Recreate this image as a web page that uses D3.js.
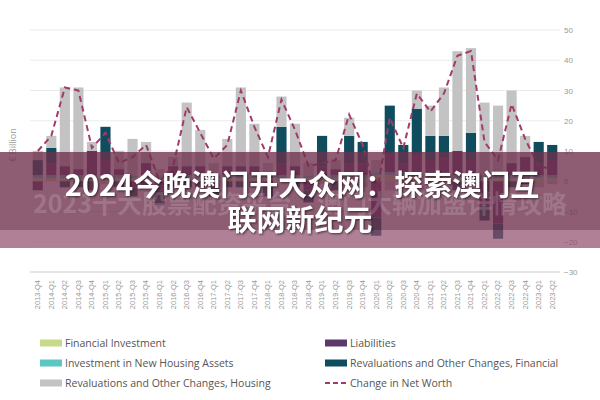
<!DOCTYPE html>
<html>
<head>
<meta charset="utf-8">
<script src="https://cdn.jsdelivr.net/npm/d3@7"></script>
<style>
  body { margin: 0; background: #fff; }
  svg { display: block; font-family: "Open Sans", "DejaVu Sans", sans-serif; }
</style>
</head>
<body>
<svg id="chart" width="600" height="400"></svg>
<script>
const quarters = [
  "2013-Q4","2014-Q1","2014-Q2","2014-Q3","2014-Q4","2015-Q1","2015-Q2","2015-Q3","2015-Q4",
  "2016-Q1","2016-Q2","2016-Q3","2016-Q4","2017-Q1","2017-Q2","2017-Q3","2017-Q4",
  "2018-Q1","2018-Q2","2018-Q3","2018-Q4","2019-Q1","2019-Q2","2019-Q3","2019-Q4",
  "2020-Q1","2020-Q2","2020-Q3","2020-Q4","2021-Q1","2021-Q2","2021-Q3","2021-Q4",
  "2022-Q1","2022-Q2","2022-Q3","2022-Q4","2023-Q1","2023-Q2"
];
const finInvestment = [1,1,1,1,1,1,1,1,1, 1,1,1,1,1,1,1,1, 1,1,1,1,1,1,1,1, 2,2,2,2,2,2,1,1, 1,1,1,1,1,1];
const housingInvest = [1,1,1,1,1,1,1,1,1, 1,1,1,1,1,1,1,1, 1,1,1,1,1,1,1,1, 1,1,1,1,1,1,1,1, 1,2,1,1,1,1];
const liabilities   = [-3,4,3,2,8,5,2,-2,4, -3,3,3,3,-2,3,3,3, -2,4,3,-3,3,2,4,4, -12,6,3,6,4,5,8,5, -8,-14,4,6,4,5];
const revalFinancial = [5,5,-2,-2,-3,11,-2,-3,-2, -5,-2,-2,-2,-3,-2,-2,-2, -3,12,-2,-4,10,-3,9,7, -6,16,6,15,8,7,-3,9, -5,-5,-2,-1,7,5];
const revalHousing  = [3,4,26,27,3,-1,6,12,7, 2,3,21,12,4,9,26,14, 4,10,14,4,-1,3,6,-2, 4,-3,-2,6,10,16,33,28, 24,22,24,7,-2,-1];
const netWorth      = [10,15,31,30,11,16,6,8,12, 0,5,24.5,16,7.5,12,30,18, 8,27,17,5,6,7,22,12, -5,21,11,29,23,29,41.5,43, 13,7,25.5,14,5,4];

const series = [
  { key: "fin", name: "Financial Investment", color: "#c7da8c", values: finInvestment },
  { key: "hinv", name: "Investment in New Housing Assets", color: "#5cc6c4", values: housingInvest },
  { key: "liab", name: "Liabilities", color: "#5b3a6b", values: liabilities },
  { key: "rfin", name: "Revaluations and Other Changes, Financial", color: "#0f4d5e", values: revalFinancial },
  { key: "rhouse", name: "Revaluations and Other Changes, Housing", color: "#c3c3c3", values: revalHousing }
];
const yTicks = [-30,-20,-10,0,10,20,30,40,50];

const svg = d3.select("#chart");
const margin = { left: 30, right: 40, top: 30, bottom: 128 };
const W = 600, H = 400;

const x = d3.scaleBand().domain(quarters).range([margin.left, W - margin.right]).paddingInner(0.25).paddingOuter(0.2);
const y = d3.scaleLinear().domain([-30, 50]).range([H - margin.bottom, margin.top]);

// gridlines
svg.append("g").selectAll("line").data(yTicks).enter().append("line")
  .attr("x1", margin.left).attr("x2", W - margin.right)
  .attr("y1", d => y(d)).attr("y2", d => y(d))
  .attr("stroke", d => d === -30 ? "#e4e4e4" : "#ebebeb").attr("stroke-width", d => d === -30 ? 2 : 1);

// y axis on right
const yAxis = svg.append("g").attr("transform", `translate(${W - margin.right + 4},0)`)
  .call(d3.axisRight(y).tickValues(yTicks).tickSize(0).tickPadding(0));
yAxis.select(".domain").remove();
yAxis.selectAll("text").attr("fill", "#999").attr("font-size", 8);

// stacked bars
const rows = quarters.map((q, i) => {
  const r = { q };
  series.forEach(s => r[s.key] = s.values[i]);
  return r;
});
const stack = d3.stack().keys(series.map(s => s.key)).offset(d3.stackOffsetDiverging)(rows);
svg.append("g").selectAll("g").data(stack).enter().append("g")
  .attr("fill", (d, i) => series[i].color)
  .selectAll("rect").data(d => d).enter().append("rect")
  .attr("x", d => x(d.data.q))
  .attr("width", x.bandwidth())
  .attr("y", d => y(Math.max(d[0], d[1])))
  .attr("height", d => Math.abs(y(d[0]) - y(d[1])));

// net worth line
const line = d3.line().x((d, i) => x(quarters[i]) + x.bandwidth() / 2).y(d => y(d));
svg.append("path").datum(netWorth).attr("d", line)
  .attr("fill", "none").attr("stroke", "#a23a6c").attr("stroke-width", 2).attr("stroke-dasharray", "6,4");

// x axis labels
const xAxis = svg.append("g").attr("transform", `translate(0,${y(-30) + 6})`)
  .call(d3.axisBottom(x).tickSize(0).tickPadding(0));
xAxis.select(".domain").remove();
xAxis.selectAll(".tick text").attr("fill", "#999").attr("font-size", 7.5)
  .attr("transform", "rotate(-90)").attr("text-anchor", "end")
  .attr("dy", "0.32em").attr("x", -2).attr("y", 0);

// y label
svg.append("text").attr("transform", "translate(16,145) rotate(-90)").attr("text-anchor", "middle")
  .attr("fill", "#999").attr("font-size", 9).text("€ Billion");

// legend
const legendItems = [
  { name: "Financial Investment", color: "#c7da8c", col: 0, row: 0 },
  { name: "Liabilities", color: "#5b3a6b", col: 1, row: 0 },
  { name: "Investment in New Housing Assets", color: "#5cc6c4", col: 0, row: 1 },
  { name: "Revaluations and Other Changes, Financial", color: "#0f4d5e", col: 1, row: 1 },
  { name: "Revaluations and Other Changes, Housing", color: "#c3c3c3", col: 0, row: 2 },
  { name: "Change in Net Worth", color: "#a23a6c", col: 1, row: 2, dashed: true }
];
const lg = svg.append("g").selectAll("g").data(legendItems).enter().append("g")
  .attr("transform", d => `translate(${d.col ? 325 : 40},${343 + d.row * 20})`);
lg.each(function (d) {
  const g = d3.select(this);
  if (d.dashed) {
    g.append("line").attr("x1", 0).attr("x2", 22).attr("y1", 0).attr("y2", 0)
      .attr("stroke", d.color).attr("stroke-width", 2).attr("stroke-dasharray", "5,3");
  } else {
    g.append("rect").attr("x", 0).attr("y", -3.5).attr("width", 22).attr("height", 7).attr("fill", d.color);
  }
});
lg.append("text").attr("x", 25).attr("y", 4).attr("font-size", 10.5).attr("fill", "#555").text(d => d.name);

// overlay banner
svg.append("rect").attr("x", 0).attr("y", 152).attr("width", 600).attr("height", 78)
  .attr("fill", "#6e2f4d").attr("opacity", 0.78);
svg.append("rect").attr("x", 0).attr("y", 230).attr("width", 600).attr("height", 18)
  .attr("fill", "#8e4a6a").attr("opacity", 0.7);
svg.append("text").attr("x", 300).attr("y", 213).attr("text-anchor", "middle")
  .attr("font-family", "Noto Sans CJK SC").attr("font-weight", "bold").attr("font-size", 25)
  .attr("fill", "#fff").attr("opacity", 0.15).text("2023十大股票配资平台，澳门大辆加盟详情攻略");
const title = svg.append("g").attr("font-family", "Noto Sans CJK SC").attr("font-weight", "bold")
  .attr("font-size", 29).attr("fill", "#fff").attr("text-anchor", "middle")
  .style("filter", "drop-shadow(1px 1px 1px rgba(0,0,0,0.6))");
title.append("text").attr("x", 302).attr("y", 196).text("2024今晚澳门开大众网：探索澳门互");
title.append("text").attr("x", 300).attr("y", 231).text("联网新纪元");
</script>
</body>
</html>
